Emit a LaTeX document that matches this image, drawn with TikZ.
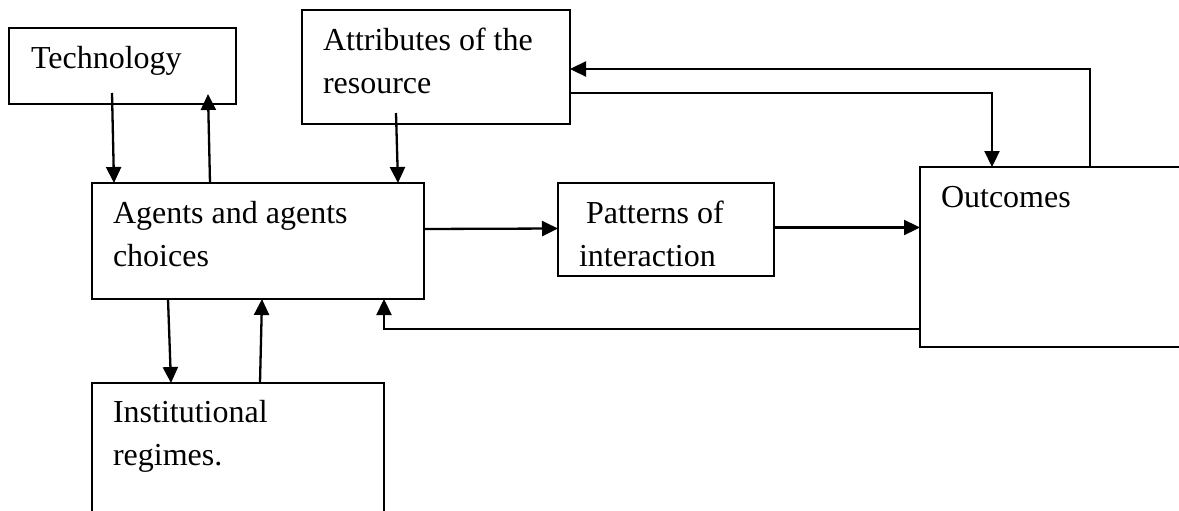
\documentclass[tikz,border=0pt]{standalone}
\usepackage{fontspec}
\setmainfont{Liberation Serif}
\usetikzlibrary{arrows.meta}
\begin{document}
\begin{tikzpicture}[x=1pt,y=-1pt,
  box/.style={draw, line width=1.8pt, inner sep=0pt, outer sep=0pt, anchor=north west},
  txt/.style={anchor=north west, inner sep=0pt, outer sep=0pt, align=left, font=\fontsize{32}{43}\selectfont},
  arr/.style={line width=2.3pt, -{Triangle[length=16pt,width=15pt]}}]
\useasboundingbox (0,0) rectangle (1179,511);
\fill[white] (0,0) rectangle (1179,511);
% boxes
\node[box, minimum width=227pt, minimum height=76pt]  (tech)   at (9,28)    {};
\node[box, minimum width=268pt, minimum height=114pt] (attr)   at (302,10)  {};
\node[box, minimum width=332pt, minimum height=116pt] (agents) at (92,183)  {};
\node[box, minimum width=216pt, minimum height=93pt]  (patt)   at (558,183) {};
\node[box, minimum width=270pt, minimum height=180pt] (outc)   at (920,167) {};
\node[box, minimum width=292pt, minimum height=140pt] (inst)   at (92,383)  {};
% texts
\node[txt] (techt)   at (31,38)   {\strut Technology};
\node[txt] (attrt)   at (323,20)  {\strut Attributes of the\\\strut resource};
\node[txt] (agentst) at (113,193) {\strut Agents and agents\\\strut choices};
\node[txt] (pattt)   at (579,193) {\strut\hspace{7pt}Patterns of\\\strut interaction};
\node[txt] (outct)   at (941,177) {\strut Outcomes};
\node[txt] (instt)   at (113,392) {\strut Institutional\\\strut regimes.};
% connectors
\draw[arr] ([xshift=103pt,yshift=11pt]tech.south west) -- ([xshift=22pt]agents.north west);
\draw[arr] ([xshift=118pt]agents.north west) -- ([xshift=199pt,yshift=10pt]tech.south west);
\draw[arr] ([xshift=94pt,yshift=11pt]attr.south west) -- ([xshift=306pt]agents.north west);
\draw[arr] ([yshift=12pt]agents.east) -- ([yshift=1pt]patt.west);
\draw[arr] ([yshift=2pt]patt.east) -- ([yshift=2pt]patt.east -| outc.west);
\draw[arr] ([xshift=170pt]outc.north west) |- ([yshift=-2pt]attr.east);
\draw[arr] ([yshift=-26pt]attr.east) -| ([xshift=72pt]outc.north west);
\draw[arr] ([yshift=18pt]outc.south west) -| ([xshift=-40pt]agents.south east);
\draw[arr] ([xshift=76pt]agents.south west) -- ([xshift=79pt]inst.north west);
\draw[arr] ([xshift=168pt]inst.north west) -- ([xshift=170pt]agents.south west);
\end{tikzpicture}
\end{document}
